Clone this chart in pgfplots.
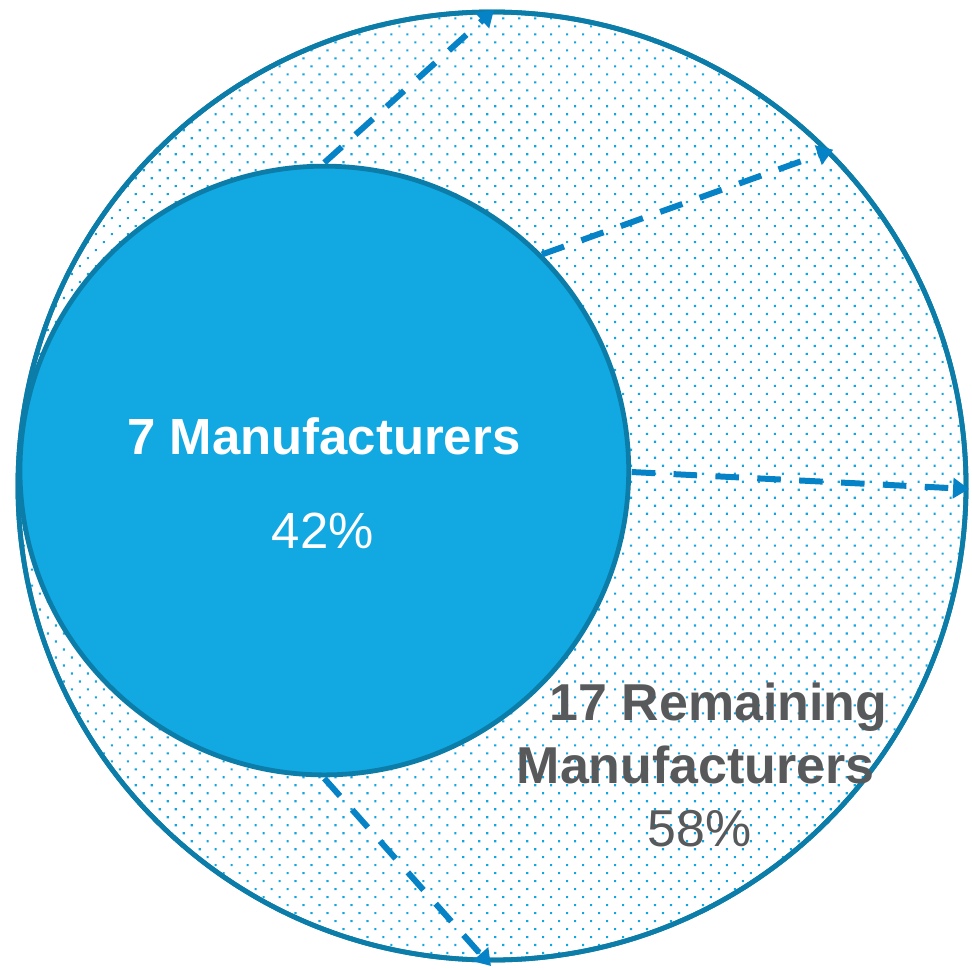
\documentclass[border=0pt]{standalone}
\usepackage{pgfplots}
\pgfplotsset{compat=1.18}
\usepackage{fontspec}
\setmainfont{Liberation Sans}
\usetikzlibrary{patterns.meta,arrows.meta}

\definecolor{innerfill}{HTML}{12A8E1}
\definecolor{ringline}{HTML}{0B7DA8}
\definecolor{arrowblue}{HTML}{0683C7}
\definecolor{dotblue}{HTML}{12A5E0}
\definecolor{labelgray}{HTML}{58595B}

% bubble centres in px (y up), radii in pt (1px = 0.5pt)
\begin{document}
\begin{tikzpicture}
\begin{axis}[
    x=0.5pt, y=0.5pt,
    xmin=0, xmax=972,
    ymin=0, ymax=970,
    hide axis,
    clip=false,
    set layers,
    mark layer=axis background,
]
\path (rel axis cs:0,0) rectangle (rel axis cs:1,1);
% all 24 manufacturers (100%)
\addplot[only marks, mark=*, mark size=237.5pt,
    mark options={draw=ringline, line width=2.4pt, fill=white}]
    coordinates {(493,483)};
\addplot[only marks, mark=*, mark size=237.5pt,
    mark options={draw=ringline, line width=2.4pt,
      pattern={Dots[distance=5.66pt, angle=45, radius=0.75pt]}, pattern color=dotblue}]
    coordinates {(493,483)};
% 7 manufacturers (42%)
\addplot[only marks, mark=*, mark size=152.5pt,
    mark options={draw=ringline, line width=2.4pt, fill=innerfill}]
    coordinates {(325,498.5)};

% dashed arrows
\pgfplotsset{arrowstyle/.style={arrowblue, line width=3pt, dash pattern=on 11.8pt off 9.2pt,
    -{Triangle[length=8pt,width=10pt]}}}
\addplot[arrowstyle] coordinates {(325,807) (495,960)};
\addplot[arrowstyle] coordinates {(543,715) (835,820)};
\addplot[arrowstyle] coordinates {(633,497) (971,480)};
\addplot[arrowstyle] coordinates {(325,190) (492,2)};

\node[anchor=base, text=white, font=\fontsize{25.5}{30}\selectfont\bfseries]
    at (axis cs:324.5,515) {7 Manufacturers};
\node[anchor=base, text=white, font=\fontsize{25.5}{30}\selectfont]
    at (axis cs:323.5,420) {42\%};
\node[anchor=base, text=labelgray, font=\fontsize{26}{30}\selectfont\bfseries]
    at (axis cs:720,248) {17 Remaining};
\node[anchor=base, text=labelgray, font=\fontsize{26}{30}\selectfont\bfseries]
    at (axis cs:697,185) {Manufacturers};
\node[anchor=base, text=labelgray, font=\fontsize{26}{30}\selectfont]
    at (axis cs:701,122) {58\%};
\end{axis}
\end{tikzpicture}
\end{document}
